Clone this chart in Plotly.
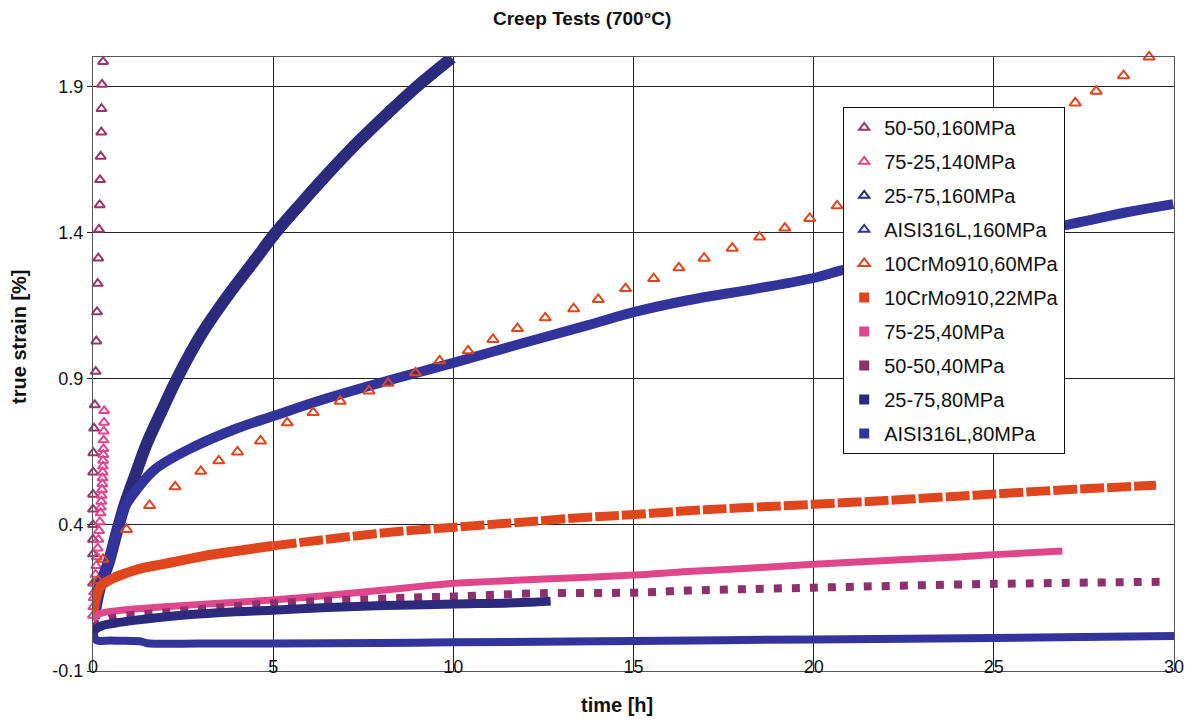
import plotly.graph_objects as go

# ---- creep curves at 700 °C : time [h] vs true strain [%] ----
t_5050_160 = [0.0, 0.0, 0.0, 0.0, 0.0, 0.0, 0.005, 0.01, 0.03, 0.05, 0.075, 0.092, 0.111, 0.13,
              0.147, 0.167, 0.186, 0.194, 0.214, 0.23, 0.235, 0.25, 0.28]
e_5050_160 = [0.2, 0.3, 0.35, 0.4, 0.453, 0.504, 0.58, 0.646, 0.73, 0.81, 0.924, 1.028, 1.128, 1.225,
              1.312, 1.41, 1.494, 1.58, 1.66, 1.743, 1.823, 1.906, 1.984]

t_7525_140 = [0.0, 0.01, 0.02, 0.03, 0.05, 0.07, 0.09, 0.11, 0.13, 0.15, 0.17, 0.19, 0.21, 0.22,
              0.23, 0.24, 0.25, 0.26, 0.265, 0.27, 0.275, 0.28, 0.285, 0.29, 0.295, 0.3, 0.305, 0.31]
e_7525_140 = [0.09, 0.12, 0.15, 0.17, 0.2, 0.23, 0.26, 0.29, 0.32, 0.35, 0.38, 0.41, 0.44, 0.46,
              0.48, 0.5, 0.52, 0.54, 0.56, 0.58, 0.6, 0.62, 0.64, 0.66, 0.69, 0.72, 0.75, 0.79]

t_2575_160 = [0.02, 0.09, 0.2, 0.42, 0.65, 0.88, 1.2, 1.48, 1.9, 2.35, 3.0, 3.75, 4.49, 5.04,
              5.78, 6.6, 7.4, 8.2, 9.0, 9.96]
e_2575_160 = [0.08, 0.13, 0.19, 0.265, 0.37, 0.469, 0.58, 0.674, 0.788, 0.905, 1.05, 1.185, 1.305,
              1.395, 1.5, 1.612, 1.715, 1.81, 1.9, 1.997]

t_316_160 = [0.02, 0.09, 0.2, 0.42, 0.65, 0.88, 1.25, 1.71, 2.64, 4.02, 4.98, 6.34, 8.15, 9.95,
             11.89, 13.74, 15.03, 16.51, 18.37, 20.03, 20.77, 23.0, 25.0, 27.16, 28.69, 29.98]
e_316_160 = [0.08, 0.13, 0.19, 0.265, 0.37, 0.46, 0.526, 0.589, 0.657, 0.731, 0.771, 0.827, 0.892,
             0.952, 1.02, 1.083, 1.128, 1.168, 1.207, 1.245, 1.27, 1.33, 1.38, 1.429, 1.469, 1.497]

t_crmo_60 = [0.14, 0.28, 0.93, 1.57, 2.28, 2.99, 3.49, 4.01, 4.65, 5.39, 6.11, 6.86, 7.66, 8.19,
             8.95, 9.62, 10.41, 11.1, 11.78, 12.55, 13.34, 14.02, 14.78, 15.56, 16.26, 16.96,
             17.74, 18.5, 19.2, 19.89, 20.65, 27.26, 27.84, 28.6, 29.31]
e_crmo_60 = [0.209, 0.282, 0.384, 0.466, 0.53, 0.583, 0.619, 0.649, 0.687, 0.749, 0.784, 0.823,
             0.858, 0.884, 0.92, 0.961, 0.995, 1.034, 1.071, 1.108, 1.139, 1.171, 1.208, 1.242,
             1.279, 1.312, 1.346, 1.384, 1.415, 1.448, 1.491, 1.843, 1.883, 1.936, 2.0]

t_crmo_22 = [0.0, 0.05, 0.12, 0.23, 0.4, 0.6, 0.9, 1.25, 1.7, 2.17, 3.1, 4.02, 4.98, 6.34, 8.1,
             10.04, 11.89, 13.74, 15.03, 16.51, 18.0, 20.0, 22.0, 24.0, 25.0, 27.0, 29.5]
e_crmo_22 = [0.09, 0.129, 0.165, 0.192, 0.207, 0.22, 0.234, 0.248, 0.26, 0.271, 0.294, 0.311,
             0.328, 0.348, 0.373, 0.392, 0.409, 0.426, 0.435, 0.448, 0.458, 0.47, 0.483, 0.498,
             0.505, 0.52, 0.535]

t_7525_40 = [0.0, 0.1, 0.3, 0.79, 2.0, 3.5, 4.98, 6.5, 8.15, 10.04, 11.89, 13.74, 15.03, 16.51,
             18.3, 20.0, 22.0, 24.0, 25.0, 26.9]
e_7525_40 = [0.07, 0.09, 0.1, 0.108, 0.12, 0.132, 0.143, 0.158, 0.178, 0.2, 0.211, 0.221, 0.228,
             0.24, 0.252, 0.265, 0.278, 0.29, 0.298, 0.31]

t_5050_40 = [0.0, 0.5, 2.0, 5.0, 8.37, 10.04, 12.44, 15.03, 16.51, 20.0, 25.0, 29.6]
e_5050_40 = [0.05, 0.08, 0.1, 0.131, 0.149, 0.155, 0.166, 0.168, 0.175, 0.185, 0.198, 0.205]

t_2575_80 = [0.0, 0.05, 0.25, 0.79, 2.17, 3.56, 4.98, 6.34, 8.1, 10.04, 11.89, 12.7]
e_2575_80 = [0.02, 0.04, 0.055, 0.067, 0.087, 0.1, 0.108, 0.116, 0.124, 0.129, 0.134, 0.139]

t_316_80 = [0.0, 0.1, 0.5, 1.3, 1.5, 3.0, 5.0, 8.0, 10.0, 15.0, 20.0, 25.0, 30.0]
e_316_80 = [0.03, 0.006, 0.004, 0.002, -0.005, -0.006, -0.006, -0.004, -0.002, 0.003, 0.008,
            0.013, 0.02]

y_ticks = [-0.1, 0.4, 0.9, 1.4, 1.9]
y_tick_text = ["-0.1", "0.4", "0.9", "1.4", "1.9"]
x_ticks = [0, 5, 10, 15, 20, 25, 30]

FONT = "Arial, Liberation Sans, sans-serif"

C_PLUM = "#9a3569"
C_ROSE = "#e0468c"
C_NAVY = "#2b2a7c"
C_BLUE = "#33339c"
C_ORANGE = "#e0461e"
C_PURPLE = "#8e2f6e"

fig = go.Figure()


def legend_entry(name, symbol, color, size):
    # marker-only legend swatch for series drawn as dense bands
    fig.add_trace(go.Scatter(
        x=[None], y=[None], mode="markers", name=name, legendgroup=name,
        marker=dict(symbol=symbol, size=size, color=color, line=dict(width=2, color=color)),
        showlegend=True, hoverinfo="skip"))


def band(name, x, y, color, width, dash="solid"):
    fig.add_trace(go.Scatter(
        x=x, y=y, mode="lines", name=name, legendgroup=name, showlegend=False,
        line=dict(color=color, width=width, shape="spline", smoothing=1.0, dash=dash)))


def tri(name, x, y, color, size=9):
    fig.add_trace(go.Scatter(
        x=x, y=y, mode="markers", name=name, legendgroup=name, cliponaxis=False,
        marker=dict(symbol="triangle-up-open", size=size, color=color,
                    line=dict(width=2, color=color))))


tri("50-50,160MPa", t_5050_160, e_5050_160, C_PLUM)
tri("75-25,140MPa", t_7525_140, e_7525_140, C_ROSE)

legend_entry("25-75,160MPa", "triangle-up-open", C_NAVY, 9)
band("25-75,160MPa", t_2575_160, e_2575_160, C_NAVY, 12)

legend_entry("AISI316L,160MPa", "triangle-up-open", C_BLUE, 9)
band("AISI316L,160MPa", t_316_160, e_316_160, C_BLUE, 10)

tri("10CrMo910,60MPa", t_crmo_60, e_crmo_60, C_ORANGE, size=10)

legend_entry("10CrMo910,22MPa", "square", C_ORANGE, 8)
split = t_crmo_22.index(4.98)
band("10CrMo910,22MPa", t_crmo_22[:split + 1], e_crmo_22[:split + 1], C_ORANGE, 10)
band("10CrMo910,22MPa", t_crmo_22[split:], e_crmo_22[split:], C_ORANGE, 9, dash="24px,3px")

legend_entry("75-25,40MPa", "square", C_ROSE, 8)
band("75-25,40MPa", t_7525_40, e_7525_40, C_ROSE, 7)

legend_entry("50-50,40MPa", "square", C_PURPLE, 8)
band("50-50,40MPa", t_5050_40, e_5050_40, C_PURPLE, 8, dash="8px,10px")

legend_entry("25-75,80MPa", "square", C_NAVY, 8)
band("25-75,80MPa", t_2575_80, e_2575_80, C_NAVY, 9)

legend_entry("AISI316L,80MPa", "square", C_BLUE, 8)
band("AISI316L,80MPa", t_316_80, e_316_80, C_BLUE, 8)

fig.update_layout(
    width=1196, height=723,
    margin=dict(l=93, r=22, t=57, b=52),
    paper_bgcolor="white", plot_bgcolor="white",
    font=dict(family=FONT, size=18, color="#111"),
    showlegend=True,
    legend=dict(x=0.694, y=0.9186, xanchor="left", yanchor="top",
                bgcolor="white", bordercolor="#111", borderwidth=1,
                font=dict(family=FONT, size=20, color="#111"),
                tracegroupgap=5, itemwidth=30, entrywidth=186, entrywidthmode="pixels"),
    xaxis=dict(range=[0, 30], tickvals=x_ticks, showgrid=True, gridcolor="#222", gridwidth=1,
               showline=True, linecolor="#555", linewidth=1, mirror=True,
               ticks="", zeroline=False, ticklabelstandoff=-21,
               tickfont=dict(family=FONT, size=18, color="#111")),
    yaxis=dict(range=[-0.1, 2.0], tickvals=y_ticks, ticktext=y_tick_text, showgrid=True,
               gridcolor="#222", gridwidth=1, showline=True, linecolor="#555", linewidth=1,
               mirror=True, ticks="outside", ticklen=5, tickcolor="#222", zeroline=False,
               tickfont=dict(family=FONT, size=18, color="#111")),
    annotations=[
        dict(text="<b>Creep Tests (700°C)</b>", x=0.4524, y=1.0635, xref="paper", yref="paper",
             xanchor="center", yanchor="middle", showarrow=False,
             font=dict(family=FONT, size=19, color="#111")),
        dict(text="<b>time [h]</b>", x=0.4847, y=-0.0554, xref="paper", yref="paper",
             xanchor="center", yanchor="middle", showarrow=False,
             font=dict(family=FONT, size=20, color="#111")),
        dict(text="<b>true strain [%]</b>", x=-0.0685, y=0.544, xref="paper", yref="paper",
             xanchor="center", yanchor="middle", showarrow=False, textangle=-90,
             font=dict(family=FONT, size=20, color="#111")),
    ],
)

fig.write_html("out.html")
